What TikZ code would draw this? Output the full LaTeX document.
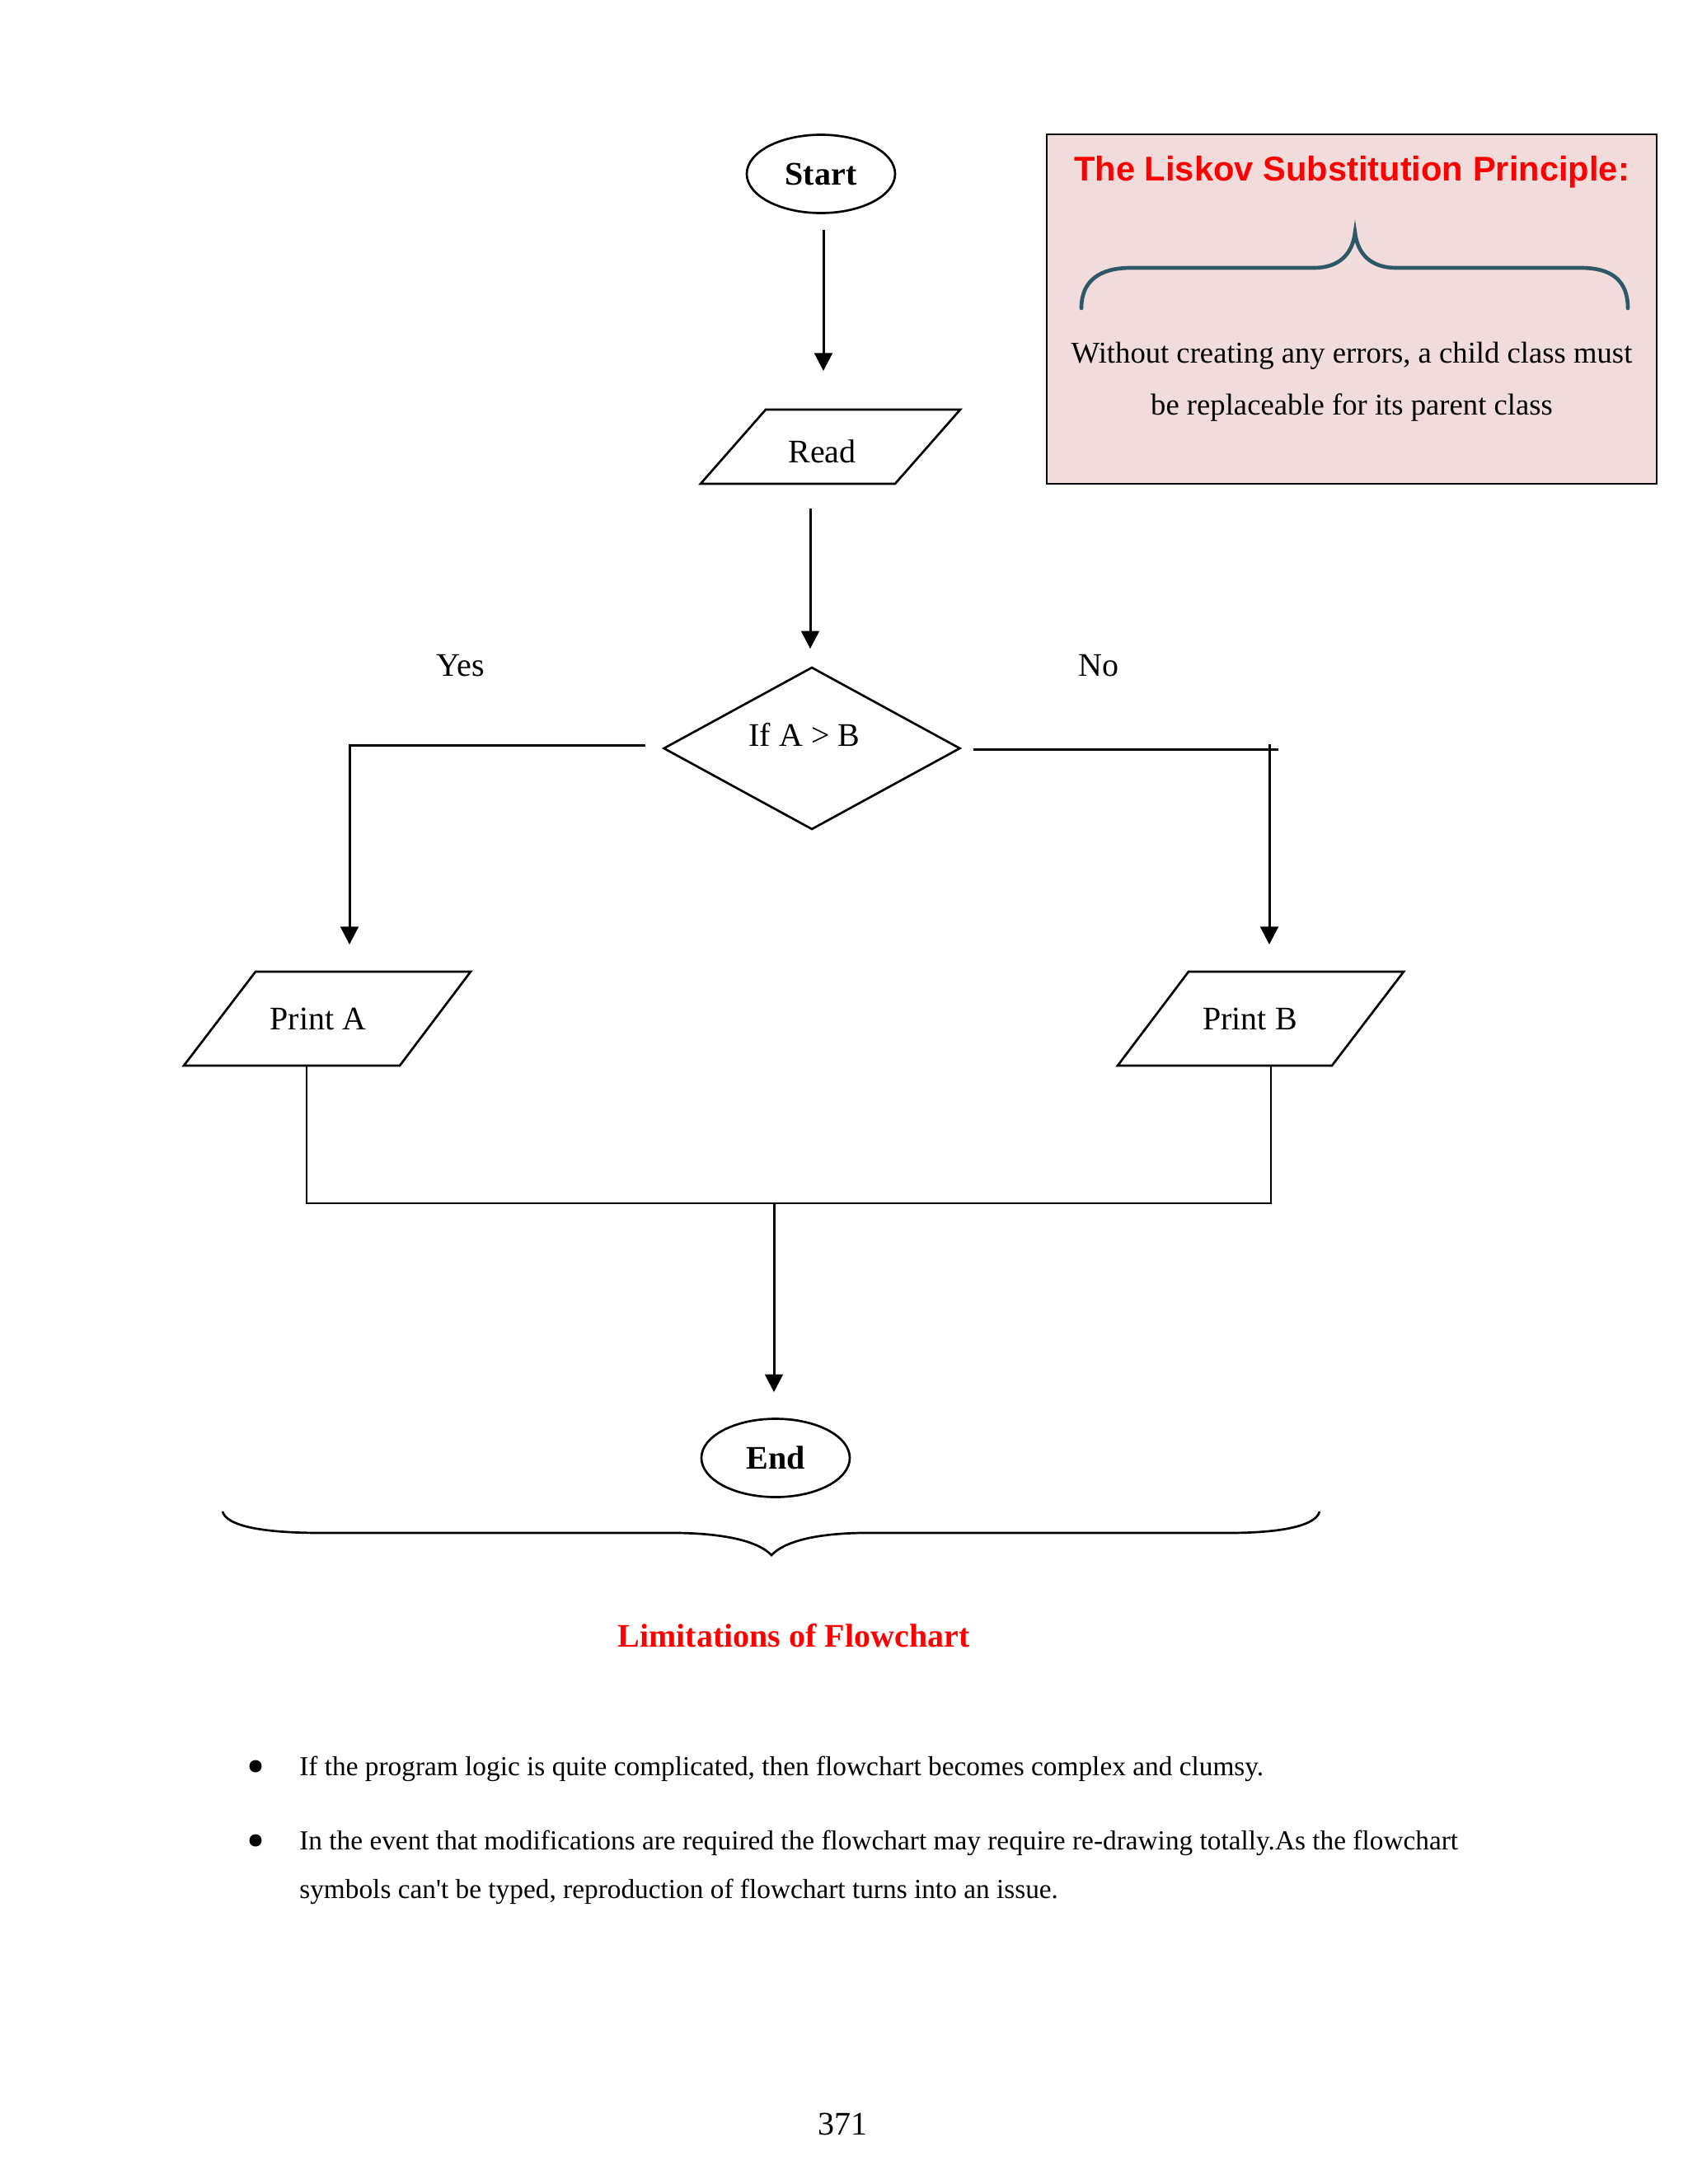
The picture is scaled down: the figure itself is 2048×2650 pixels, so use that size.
\documentclass[tikz,border=0pt]{standalone}
\usepackage{fontspec}
\setmainfont{Liberation Serif}
\newfontfamily\lsans{Liberation Sans}
\usetikzlibrary{arrows.meta,shapes.geometric,calc}
\definecolor{liskovpink}{HTML}{F2DCDB}
\definecolor{braceteal}{HTML}{2F5867}
\newcommand\pxl{0.010542cm}
\begin{document}
\begin{tikzpicture}[x=0.010542cm,y=-0.010542cm,
  line width=0.8pt,
  term/.style={ellipse,draw,inner sep=0pt,minimum width=180*\pxl,minimum height=95*\pxl,font=\fontsize{12}{14}\selectfont\bfseries},
  iobox/.style={rectangle,inner sep=0pt,outer sep=0pt},
  decision/.style={diamond,draw,inner sep=0pt,minimum width=360*\pxl,minimum height=197*\pxl},
  arr/.style={line width=0.9pt,-{Triangle[length=6.5pt,width=6.5pt]}},
  joinline/.style={line width=0.7pt},
  lbl/.style={font=\fontsize{12}{14}\selectfont},
  bodytext/.style={font=\fontsize{10}{17.6}\selectfont,inner sep=0pt,align=left},
]
\useasboundingbox (0,0) rectangle (2048,2650);

% ---- Liskov box ----
\node[draw,fill=liskovpink,line width=0.7pt,minimum width=740*\pxl,minimum height=424*\pxl,inner sep=0pt] (liskov) at (1640,375) {};
\node[font=\lsans\bfseries\fontsize{12.5}{15}\selectfont,text=red] (lsktitle) at (1640,209) {The Liskov Substitution Principle:};
\draw[braceteal,line width=1.4pt,line cap=round]
  (1312,374) .. controls (1312,340) and (1335,325) .. (1372,325) -- (1594,325)
  .. controls (1625,325) and (1641,308) .. (1644,282)
  .. controls (1647,308) and (1663,325) .. (1694,325) -- (1918,325)
  .. controls (1955,325) and (1975,340) .. (1975,374);
\node[font=\fontsize{11}{19}\selectfont,align=center] (lsktext) at (1640,463)
  {Without creating any errors, a child class must\\ be replaceable for its parent class};

% ---- flowchart ----
\node[term] (start) at (996,211) {Start};

\node[iobox,minimum width=315*\pxl,minimum height=90*\pxl,label={[lbl,shift={(-10,6)}]center:Read}] (read) at (1007.5,542) {};
\draw (read.south west) -- ($(read.north west)+(79,0)$) -- (read.north east) -- ($(read.south east)+(-79,0)$) -- cycle;

\node[decision,label={[lbl,shift={(-9,-17)}]center:If A > B}] (dec) at (985,908) {};

\node[lbl] (yes) at (559,808) {Yes};
\node[lbl] (no) at (1333,808) {No};

\node[iobox,minimum width=348*\pxl,minimum height=114*\pxl,label={[lbl,shift={(-11,0)}]center:Print A}] (printa) at (397,1236) {};
\draw (printa.south west) -- ($(printa.north west)+(87,0)$) -- (printa.north east) -- ($(printa.south east)+(-86,0)$) -- cycle;

\node[iobox,minimum width=347*\pxl,minimum height=114*\pxl,label={[lbl,shift={(-13,0)}]center:Print B}] (printb) at (1529.5,1236) {};
\draw (printb.south west) -- ($(printb.north west)+(86,0)$) -- (printb.north east) -- ($(printb.south east)+(-87,0)$) -- cycle;

\node[term] (end) at (941,1769) {End};

% connectors
\draw[arr] ($(start.south)+(3,19)$) -- ($(read.north)+(-8.5,-47)$);
\draw[arr] ($(read.south)+(-24.5,30)$) -- ($(dec.north)+(-2,-21)$);
\draw[arr] ($(dec.west)+(-21,-4)$) -| ($(printa.north)+(27,-33)$);
\draw[line width=0.9pt] ($(dec.east)+(15,1)$) -- ($(printb.north)+(21,-270)$);
\draw[arr] ($(printb.north)+(10.5,-276)$) -- ($(printb.north)+(10.5,-33)$);
\coordinate (merge) at (939,1460);
\draw[joinline] ($(printa.south)+(-25,0)$) |- ($(printb.south)+(12.5,167)$) -- ($(printb.south)+(12.5,0)$);
\draw[arr] (merge) -- ($(end.north)+(-2,-31)$);

% ---- bottom brace ----
\draw[line width=0.8pt]
  (270,1834) .. controls (275,1852) and (320,1860) .. (390,1860) -- (824,1860)
  .. controls (880,1861) and (920,1870) .. (936,1887)
  .. controls (952,1870) and (990,1861) .. (1044,1860) -- (1490,1860)
  .. controls (1560,1860) and (1597,1850) .. (1601,1834);

% ---- limitations ----
\node[font=\fontsize{12}{14}\selectfont\bfseries,text=red] (limtitle) at (963,1985) {Limitations of Flowchart};

\fill (310,2143) circle[radius=7.5];
\fill (310,2233) circle[radius=7.5];
\node[bodytext,anchor=base west] (b1) at (362,2154) {If the program logic is quite complicated, then flowchart becomes complex and clumsy.};
\node[bodytext,anchor=base west] (b2) at (362,2303) {In the event that modifications are required the flowchart may require re-drawing totally.As the flowchart\\symbols can\textquotesingle t be typed, reproduction of flowchart turns into an issue.};

\node[lbl] (pagenum) at (1022,2577) {371};
\end{tikzpicture}
\end{document}
